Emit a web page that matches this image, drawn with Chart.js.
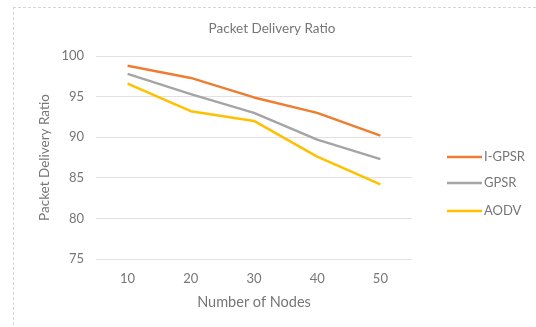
<!DOCTYPE html>
<html>
<head>
<meta charset="utf-8">
<script src="https://cdn.jsdelivr.net/npm/chart.js@4"></script>
<style>
  html, body { margin: 0; padding: 0; background: #fff; }
  #wrap { width: 536px; height: 327px; position: relative; }
</style>
</head>
<body>
<div id="wrap"><canvas id="c" width="536" height="327"></canvas></div>
<script>
// Packet delivery ratio (%) by network size
const nodeCounts = ['10', '20', '30', '40', '50'];
const igpsr = [98.8, 97.3, 94.9, 93.0, 90.2];
const gpsr  = [97.8, 95.3, 93.0, 89.7, 87.3];
const aodv  = [96.6, 93.2, 92.0, 87.6, 84.2];
const yTicks = [75, 80, 85, 90, 95, 100];

const FONT = 'Lato, "Open Sans", sans-serif';
const TEXT = '#767676';

// chart frame, heading and legend drawn on the canvas
const decor = {
  id: 'decor',
  beforeDraw(chart) {
    const ctx = chart.ctx;
    ctx.save();
    ctx.strokeStyle = '#d6d6d6';
    ctx.lineWidth = 1;
    ctx.setLineDash([3, 2]);
    ctx.beginPath();
    ctx.moveTo(13, 7.5); ctx.lineTo(536, 7.5);
    ctx.moveTo(13.5, 7); ctx.lineTo(13.5, 327);
    ctx.stroke();
    ctx.restore();
  },
  afterDraw(chart) {
    const ctx = chart.ctx;
    ctx.save();
    ctx.fillStyle = TEXT;
    ctx.font = '13.5px ' + FONT;
    ctx.textAlign = 'center';
    ctx.textBaseline = 'middle';
    ctx.fillText('Packet Delivery Ratio', 272, 29);

    ctx.font = '13px ' + FONT;
    const rows = [157, 183, 211];
    chart.data.datasets.forEach((ds, i) => {
      const y = rows[i];
      ctx.strokeStyle = ds.borderColor;
      ctx.lineWidth = ds.borderWidth;
      ctx.beginPath();
      ctx.moveTo(447, y); ctx.lineTo(482, y);
      ctx.stroke();
      ctx.fillStyle = TEXT;
      ctx.textAlign = 'left';
      ctx.fillText(ds.label, 484, y);
    });
    ctx.restore();
  }
};

new Chart(document.getElementById('c'), {
  type: 'line',
  data: {
    labels: nodeCounts,
    datasets: [
      { label: 'I-GPSR', data: igpsr, borderColor: '#ED7D31', borderWidth: 2.5 },
      { label: 'GPSR',   data: gpsr,  borderColor: '#A5A5A5', borderWidth: 2.5 },
      { label: 'AODV',   data: aodv,  borderColor: '#FFC000', borderWidth: 2.5 }
    ]
  },
  options: {
    responsive: false,
    animation: false,
    devicePixelRatio: 1,
    layout: { padding: { top: 56, right: 124, left: 0, bottom: 0 } },
    elements: {
      point: { radius: 0, hoverRadius: 0 },
      line: { tension: 0, borderCapStyle: 'butt', borderJoinStyle: 'round', fill: false }
    },
    plugins: {
      legend: { display: false },
      title: { display: false },
      tooltip: { enabled: false }
    },
    scales: {
      x: {
        type: 'category',
        offset: true,
        grid: { display: false, drawTicks: false },
        border: { display: false },
        ticks: { color: TEXT, font: { family: FONT, size: 13 }, padding: 12 },
        title: {
          display: true, text: 'Number of Nodes', color: TEXT,
          font: { family: FONT, size: 14.5 }, padding: { top: 0, bottom: 16 }
        },
        afterFit(scale) { scale.height = 68; }
      },
      y: {
        min: 75, max: 100,
        afterBuildTicks(scale) { scale.ticks = yTicks.map(v => ({ value: v })); },
        grid: { color: '#e6e0e6', lineWidth: 1, drawTicks: false },
        border: { display: false },
        ticks: { color: TEXT, font: { family: FONT, size: 13 }, padding: 12 },
        title: {
          display: true, text: 'Packet Delivery Ratio', color: TEXT,
          font: { family: FONT, size: 13.5 }, padding: { top: 37, bottom: 0 }
        },
        afterFit(scale) { scale.width = 96; }
      }
    }
  },
  plugins: [decor]
});
</script>
</body>
</html>
